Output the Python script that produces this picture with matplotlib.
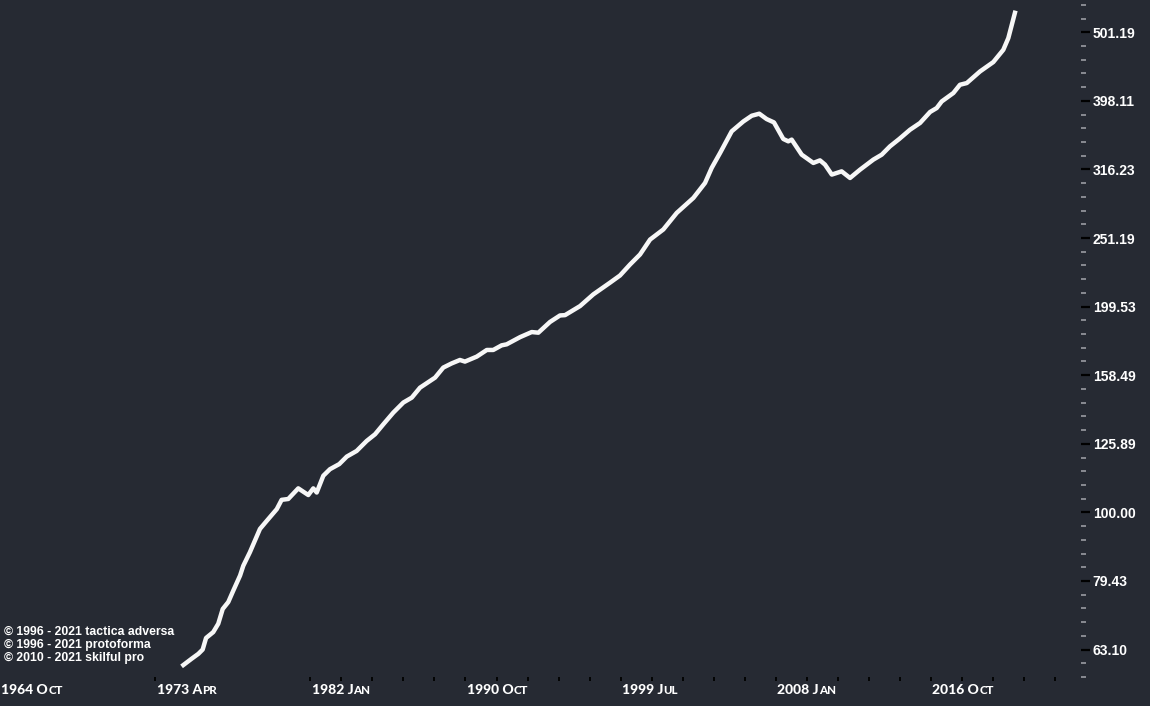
import matplotlib.pyplot as plt
import numpy as np
from matplotlib.ticker import NullFormatter

# house price index (decimal year, index value)
years = [1974.99, 1975.46, 1975.83, 1976.07, 1976.26, 1976.66, 1976.94, 1977.19, 1977.50, 1977.78,
         1978.16, 1978.34, 1978.71, 1979.27, 1979.65, 1980.21, 1980.48, 1980.85, 1981.41, 1981.97,
         1982.25, 1982.44, 1982.81, 1983.18, 1983.70, 1984.12, 1984.67, 1985.23, 1985.70, 1986.16,
         1986.72, 1987.28, 1987.75, 1988.21, 1989.05, 1989.51, 1989.98, 1990.44, 1990.72, 1991.38,
         1991.94, 1992.30, 1992.77, 1993.05, 1993.80, 1994.45, 1994.82, 1995.47, 1996.03, 1996.31,
         1997.15, 1997.89, 1998.82, 1999.38, 1999.94, 2000.50, 2001.06, 2001.80, 2002.55, 2003.48,
         2004.13, 2004.50, 2004.97, 2005.62, 2006.27, 2006.74, 2007.16, 2007.57, 2007.98, 2008.50,
         2008.78, 2008.97, 2009.53, 2010.18, 2010.55, 2010.83, 2011.21, 2011.76, 2012.23, 2012.79,
         2013.53, 2014.00, 2014.46, 2014.98, 2015.58, 2016.14, 2016.70, 2017.07, 2017.35, 2018.00,
         2018.37, 2018.75, 2019.49, 2020.23, 2020.79, 2021.07, 2021.44]
values = [59.9, 61.2, 62.2, 63.1, 65.6, 66.9, 68.8, 72.3, 74.0, 76.9,
          80.9, 83.6, 87.5, 94.6, 97.2, 101.1, 104.3, 104.6, 108.4, 106.0,
          108.4, 106.9, 113.1, 115.6, 117.6, 120.6, 122.9, 127.1, 130.0, 134.4,
          139.8, 144.6, 147.0, 152.0, 157.2, 162.6, 164.9, 166.8, 165.9, 168.7,
          172.5, 172.5, 175.2, 175.8, 180.1, 183.2, 182.8, 189.5, 193.7, 193.9,
          199.9, 207.9, 216.2, 221.5, 229.8, 237.7, 249.9, 258.5, 273.3, 287.4,
          302.2, 317.8, 334.2, 359.4, 371.5, 378.7, 381.3, 374.5, 370.3, 350.3,
          347.5, 349.5, 332.3, 323.2, 326.0, 321.4, 310.8, 314.2, 307.3, 316.0,
          326.8, 332.3, 341.7, 350.3, 361.3, 369.6, 383.5, 388.6, 397.3, 408.7,
          420.2, 422.6, 439.4, 453.4, 472.5, 491.4, 535.0]

x_labels = ['1964 Oct', '1973 Apr', '1982 Jan', '1990 Oct', '1999 Jul', '2008 Jan', '2016 Oct']
credits = ['\u00a9 1996 - 2021 tactica adversa',
           '\u00a9 1996 - 2021 protoforma',
           '\u00a9 2010 - 2021 skilful pro']

bg = '#262a33'
step = 52 / 30.0  # spacing of the x ticks in years
label_pos = [1964.75 + 5 * k * step for k in range(len(x_labels))]
tick_pos = [1964.75 + 5 * step] + [1964.75 + k * step for k in range(10, 35)]

fig = plt.figure(figsize=(11.5, 7.06), dpi=100, facecolor=bg)
ax = fig.add_axes([0, 29 / 706, 1081 / 1150, 677 / 706])
ax.set_facecolor(bg)

ax.plot(years, values, color='#f7f7f7', lw=3.2, solid_joinstyle='round')

ax.set_yscale('log')
ax.set_ylim(57.8, 558.5)
ax.set_xlim(1964.75, 2025.13)
for s in ax.spines.values():
    s.set_visible(False)

# y axis on the right, ticks every 0.1 decade, minor every 0.02
ax.yaxis.tick_right()
major = 10 ** np.arange(1.8, 2.705, 0.1)
minor = [m for m in 10 ** np.arange(1.76, 2.745, 0.02)
         if np.min(np.abs(np.log10(m) - np.log10(major))) > 0.005]
ax.set_yticks(major)
ax.set_yticklabels(['%.2f' % v for v in major])
ax.set_yticks(minor, minor=True)
ax.yaxis.set_minor_formatter(NullFormatter())
ax.tick_params(axis='y', which='major', length=6.5, width=1.6, color='black',
               labelcolor='white', labelsize=10, pad=2)
ax.tick_params(axis='y', which='minor', length=3.4, width=1.2, color='#9a9ca2')
for lbl in ax.get_yticklabels():
    lbl.set_fontweight('bold')
    lbl.set_family('Liberation Sans')

ax.set_xticks(tick_pos)
ax.set_xticklabels([])
ax.tick_params(axis='x', length=2.6, width=1.3, color='black')

# x labels in small caps: year + first letter, then the rest smaller
trans = ax.get_xaxis_transform()
for xp, lbl in zip(label_pos, x_labels):
    yr, mon = lbl.split()
    t1 = ax.annotate(yr + ' ' + mon[0], xy=(xp, 0), xycoords=trans, xytext=(1, -5),
                     textcoords='offset points', ha='left', va='top', fontsize=10,
                     fontweight='black', color='white', family='Lato', annotation_clip=False)
    ax.annotate(mon[1:].upper(), xy=(1, 0), xycoords=t1, ha='left', va='bottom',
                fontsize=8.3, fontweight='black', color='white', family='Lato',
                annotation_clip=False)

for i, c in enumerate(credits):
    fig.text(4 / 1150, (706 - 631.5 - 13 * i) / 706, c, ha='left', va='center',
             fontsize=8.8, fontweight='bold', color='white', family='Liberation Sans')

fig.savefig('out.png', dpi=100, facecolor=bg)
